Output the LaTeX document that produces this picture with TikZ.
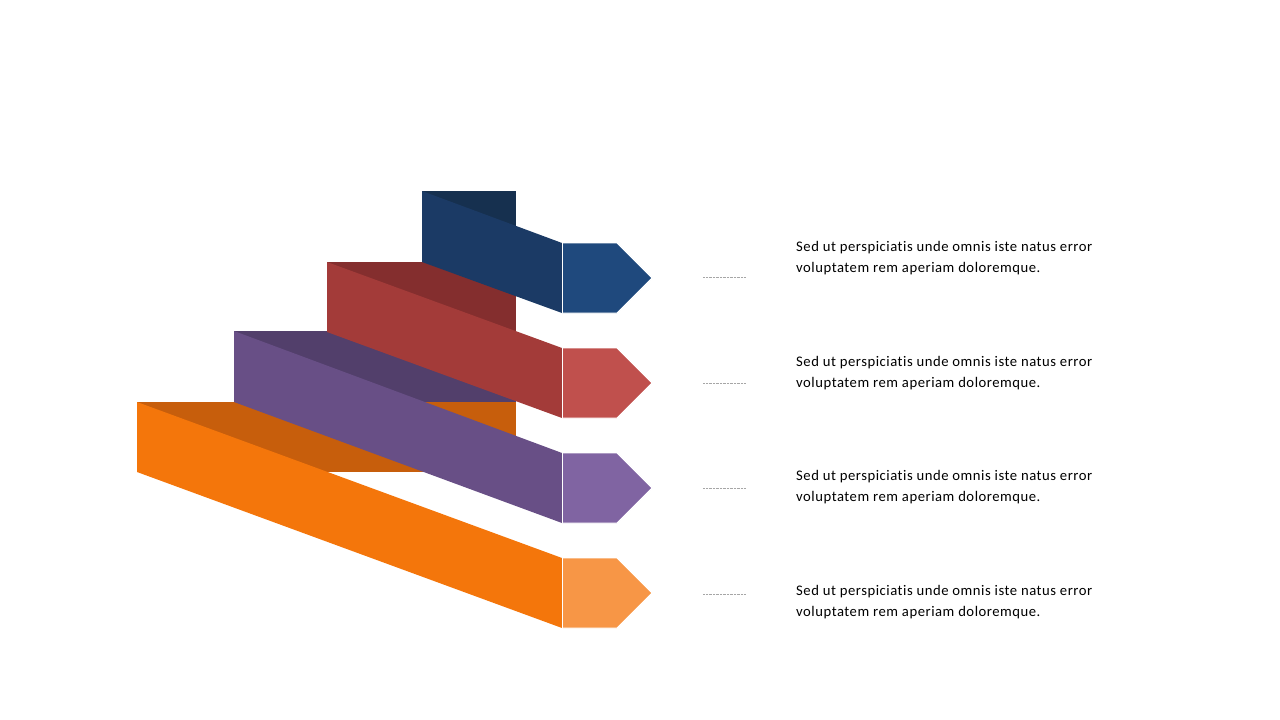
\documentclass[tikz,border=0pt]{standalone}
\usepackage{fontspec}
\setmainfont{Carlito}[Ligatures=NoCommon,LetterSpace=3.6]
\definecolor{bBand}{HTML}{1B3A65}
\definecolor{bDark}{HTML}{16304F}
\definecolor{bArr}{HTML}{1F497D}
\definecolor{rBand}{HTML}{A33B39}
\definecolor{rDark}{HTML}{842E2E}
\definecolor{rArr}{HTML}{C0504D}
\definecolor{pBand}{HTML}{684F86}
\definecolor{pDark}{HTML}{523F6B}
\definecolor{pArr}{HTML}{8064A2}
\definecolor{oBand}{HTML}{F4760B}
\definecolor{oDark}{HTML}{C75E0C}
\definecolor{oArr}{HTML}{F79646}
\definecolor{dotgray}{HTML}{A6A6A6}
\tikzset{
  arrowshape/.style={draw=white, line width=0.8pt},
  leader/.style={draw=dotgray, dash pattern=on 1pt off 0.4pt, line width=0.6pt},
  desc/.style={anchor=north west, inner sep=0pt, align=left, font=\fontsize{14.67}{21}\selectfont, text=black}
}
\begin{document}
\begin{tikzpicture}[x=1pt,y=-1pt]
\useasboundingbox (0,0) rectangle (1280,720);
% back (dark) rectangles
\fill[oDark] (137,402) rectangle (516,472);
\fill[pDark] (234,331) rectangle (516,402);
\fill[rDark] (327,262) rectangle (516,332);
\fill[bDark] (422,191) rectangle (516,262);
% slanted bands
\fill[oBand] (137,402) -- (562,558) -- (562,628) -- (137,472) -- cycle;
\fill[pBand] (234,331) -- (562,453) -- (562,523) -- (234,402) -- cycle;
\fill[rBand] (327,262) -- (562,348) -- (562,418) -- (327,332) -- cycle;
\fill[bBand] (422,191) -- (562,243) -- (562,313) -- (422,262) -- cycle;
% arrow heads
\filldraw[arrowshape, fill=bArr] (562.5,243) -- (617,243) -- (652,278) -- (617,313) -- (562.5,313) -- cycle;
\filldraw[arrowshape, fill=rArr] (562.5,348) -- (617,348) -- (652,383) -- (617,418) -- (562.5,418) -- cycle;
\filldraw[arrowshape, fill=pArr] (562.5,453) -- (617,453) -- (652,488) -- (617,523) -- (562.5,523) -- cycle;
\filldraw[arrowshape, fill=oArr] (562.5,558) -- (617,558) -- (652,593) -- (617,628) -- (562.5,628) -- cycle;
% leader lines
\coordinate (l1a) at (703,277); \coordinate (l1b) at (746,277);
\coordinate (l2a) at (703,383); \coordinate (l2b) at (746,383);
\coordinate (l3a) at (703,488); \coordinate (l3b) at (746,488);
\coordinate (l4a) at (703,594); \coordinate (l4b) at (746,594);
\draw[leader] (l1a) -- (l1b);
\draw[leader] (l2a) -- (l2b);
\draw[leader] (l3a) -- (l3b);
\draw[leader] (l4a) -- (l4b);
% texts
\node[desc] (t1) at (796,241) {Sed ut perspiciatis unde omnis iste natus error\\voluptatem rem aperiam doloremque.};
\node[desc] (t2) at (796,356) {Sed ut perspiciatis unde omnis iste natus error\\voluptatem rem aperiam doloremque.};
\node[desc] (t3) at (796,470) {Sed ut perspiciatis unde omnis iste natus error\\voluptatem rem aperiam doloremque.};
\node[desc] (t4) at (796,585) {Sed ut perspiciatis unde omnis iste natus error\\voluptatem rem aperiam doloremque.};
\end{tikzpicture}
\end{document}
